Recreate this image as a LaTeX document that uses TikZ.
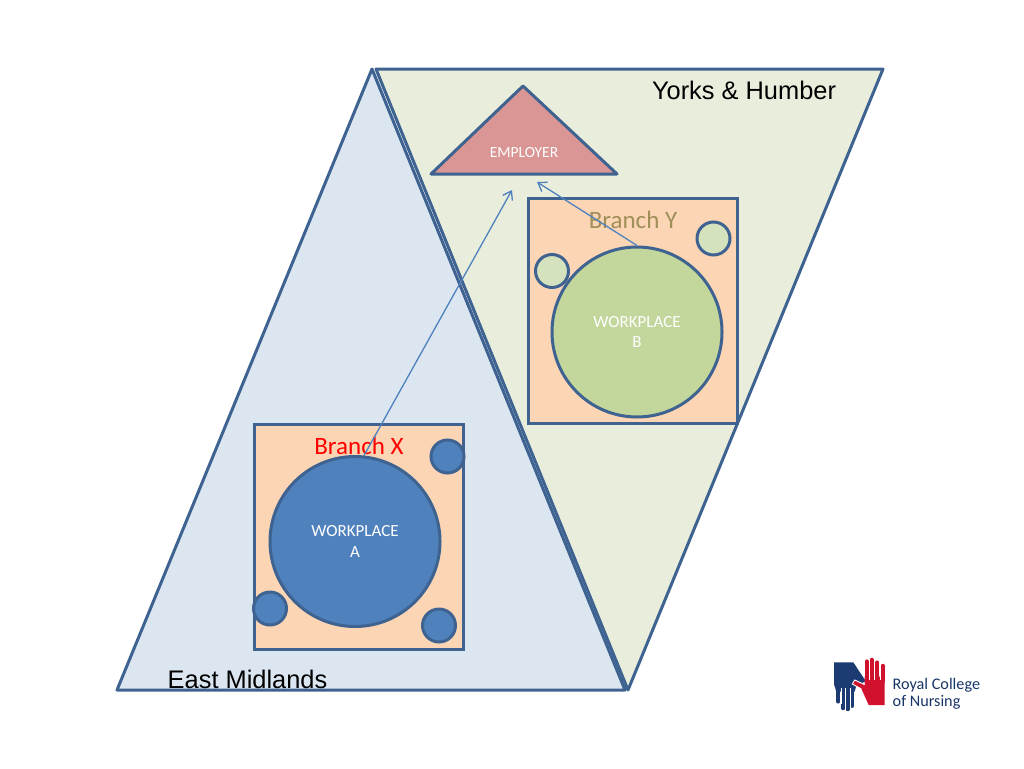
\documentclass[tikz,border=0pt]{standalone}
\usepackage{fontspec}
\setmainfont{Carlito}
\newfontfamily\arialfont{Liberation Sans}
\usetikzlibrary{positioning,arrows.meta}
\definecolor{edgeblue}{HTML}{3F6391}
\definecolor{eastfill}{HTML}{DCE6F1}
\definecolor{yorksfill}{HTML}{E9EEDC}
\definecolor{branchfill}{HTML}{FCD5B5}
\definecolor{workblue}{HTML}{4F81BD}
\definecolor{workgreen}{HTML}{C3D69B}
\definecolor{smallgreen}{HTML}{D5E2BE}
\definecolor{employerfill}{HTML}{D99694}
\definecolor{branchytext}{HTML}{A08F58}
\definecolor{logoblue}{HTML}{1C3B73}
\definecolor{logored}{HTML}{D0122F}
\tikzset{
  region/.style={draw=edgeblue,line width=3pt,line join=round},
  branchbox/.style={draw=edgeblue,line width=3pt,fill=branchfill,minimum width=209.5pt,minimum height=225.5pt,inner sep=0pt},
  workplace/.style={circle,draw=edgeblue,line width=3pt,minimum size=170pt,inner sep=0pt,text=white,align=center,font=\fontsize{17}{20.5}\selectfont},
  member/.style={circle,draw=edgeblue,line width=3pt,minimum size=33pt,inner sep=0pt},
  branchlabel/.style={font=\fontsize{25}{28}\selectfont,inner sep=0pt},
  arealabel/.style={font=\arialfont\fontsize{25.4}{28}\selectfont,inner sep=0pt,text=black},
  link/.style={-{Straight Barb[length=8pt,width=11pt]},draw=workblue,line width=1.3pt},
  bluefinger/.style={draw=logoblue,line width=3.8pt,line cap=round},
  redfinger/.style={draw=logored,line width=3.8pt,line cap=round}
}
\begin{document}
\begin{tikzpicture}[x=1pt,y=-1pt]
  \useasboundingbox (0,0) rectangle (1024,768);
  % regions
  \draw[region,fill=eastfill] (372,69) -- (117,690) -- (625,690) -- cycle;
  \draw[region,fill=yorksfill] (376,69) -- (883,69) -- (628,690) -- cycle;
  \draw[region,fill=employerfill] (523,86) -- (431,174) -- (617,174) -- cycle;
  \node[arealabel] (yorks) at (744,90.5) {Yorks \& Humber};
  \node[arealabel] (east) at (247.5,679.5) {East Midlands};
  \node[text=white,inner sep=0pt,font=\fontsize{15.5}{18}\selectfont] (employer) at (524,153) {EMPLOYER};
  % branch X
  \node[branchbox] (boxX) at (358.8,537) {};
  \node[workplace,fill=workblue] (workA) at (355,541.5) {WORKPLACE\\A};
  \node[member,fill=workblue] (memA1) at (447.5,456.5) {};
  \node[member,fill=workblue] (memA2) at (270,608.5) {};
  \node[member,fill=workblue] (memA3) at (439,625.5) {};
  \node[branchlabel,text=red] (labelX) at (359,445.5) {Branch X};
  % branch Y
  \node[branchbox] (boxY) at (632.8,311) {};
  \node[member,fill=smallgreen] (memB1) at (713.5,238.5) {};
  \node[member,fill=smallgreen] (memB2) at (552,271) {};
  \node[workplace,fill=workgreen] (workB) at (637,332) {WORKPLACE\\B};
  \node[branchlabel,text=branchytext] (labelY) at (633,219.5) {Branch Y};
  % links to employer
  \coordinate (tipA) at (512,190);
  \coordinate (tipB) at (537,182);
  \draw[link] (workA.84) -- (tipA);
  \draw[link] (workB.north) -- (tipB);
  % logo
  \begin{scope}[shift={(820,645)},x=0.3333pt,y=-0.3333pt]
    \fill[logoblue] (42,52) -- (100,52) -- (137,108) -- (108,125) -- (104,140) -- (49,140) -- (42,118) -- cycle;
    \foreach \fx/\fy in {55/170,70/190,83/193,97/183}
      \draw[bluefinger] (\fx,130) -- (\fx,\fy);
    \draw[white,line width=.5pt] (62.5,130) -- (62.5,178) (76.5,130) -- (76.5,190) (90,130) -- (90,190);
    \foreach \fx/\fy in {140/49,155/44,172/52,188/62}
      \draw[redfinger] (\fx,110) -- (\fx,\fy);
    \fill[logored] (134,95) -- (194,95) -- (194,180) -- (146,180) -- (124,131) -- (98,117) -- (104,106) -- (134,118) -- cycle;
    \draw[white,line width=.5pt] (147.5,50) -- (147.5,105) (163.5,50) -- (163.5,105) (180,56) -- (180,105);
    \draw[white,line width=.9pt] (134,119) -- (104,105) -- (97,117) -- (124,132);
  \end{scope}
  \node[text=logoblue!90!black,align=left,inner sep=0pt,font=\fontsize{16.2}{17}\selectfont,anchor=west] (logotext) at (892.5,693.5) {Royal College\\of Nursing};
\end{tikzpicture}
\end{document}
